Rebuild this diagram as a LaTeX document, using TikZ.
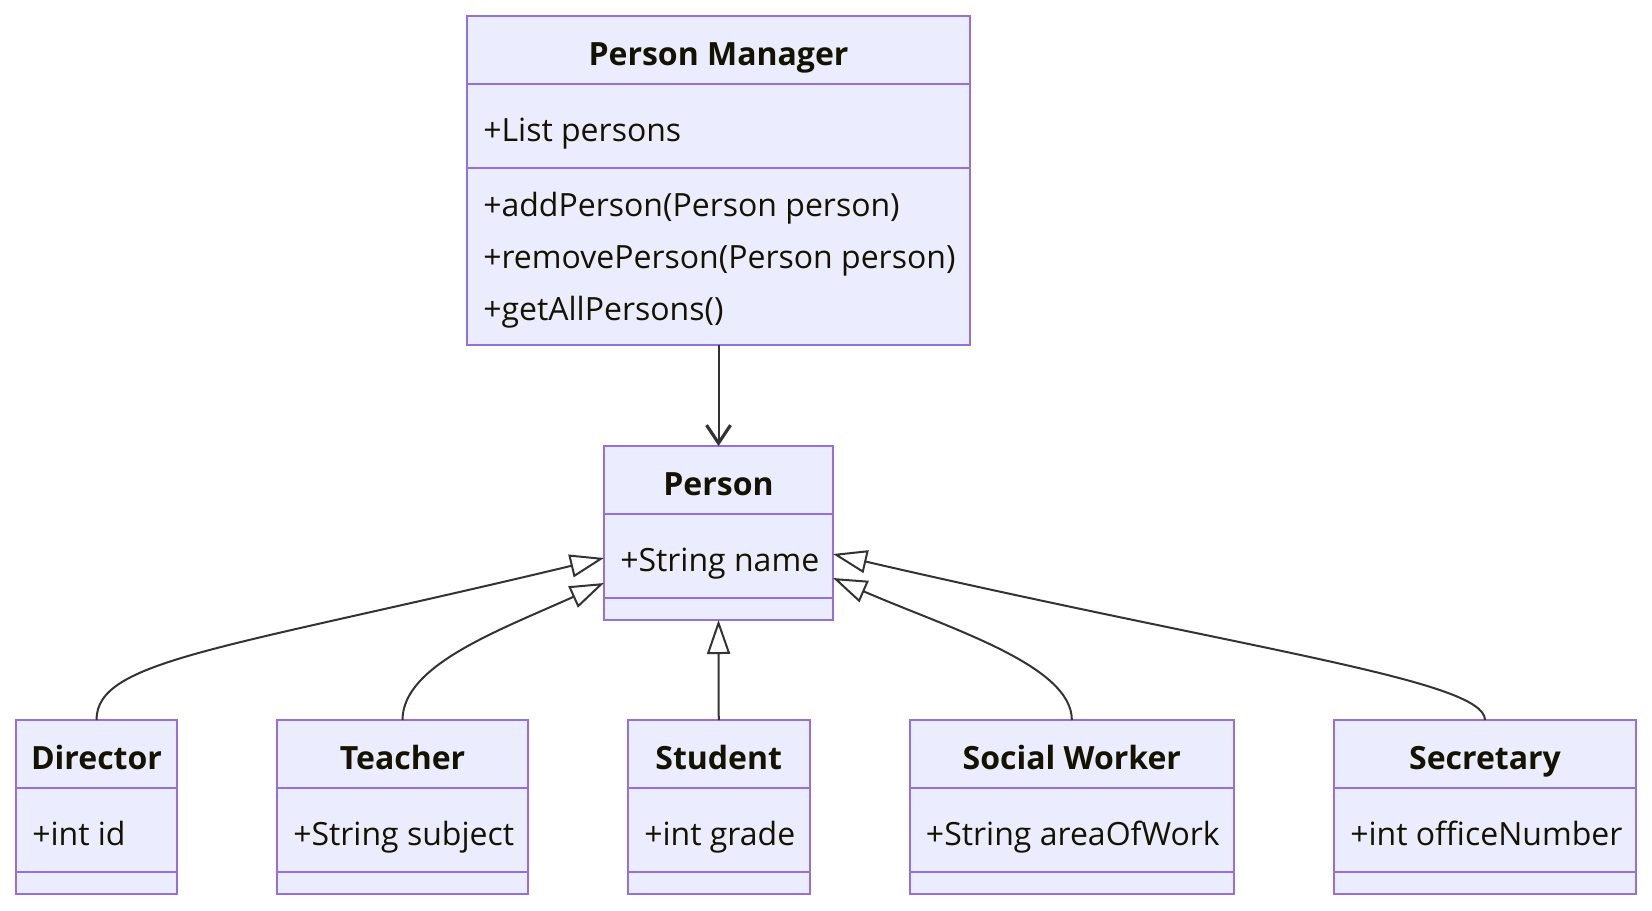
\documentclass[tikz,border=0pt]{standalone}
\usepackage{fontspec}
\setmainfont{Open Sans}
\usetikzlibrary{arrows.meta,calc,fit}

\definecolor{classfill}{HTML}{ECECFF}
\definecolor{classborder}{HTML}{9370DB}
\definecolor{classtext}{HTML}{131300}
\definecolor{edgegray}{HTML}{333333}

\tikzset{
  classbox/.style={draw=classborder, fill=classfill, line width=1.5pt,
    inner sep=0pt, outer sep=0pt},
  classline/.style={draw=classborder, line width=1.5pt},
  classtitle/.style={anchor=base, inner sep=0pt, text=classtext,
    font=\fontsize{24}{29}\selectfont\bfseries},
  classmember/.style={anchor=base west, inner sep=0pt, text=classtext,
    font=\fontsize{24}{29}\selectfont},
  assoc/.style={draw=edgegray, line width=1.5pt,
    -{Straight Barb[length=13.5pt,width=18pt,line width=2.4pt]}},
  inherit/.style={draw=edgegray, line width=1.5pt,
    -{Triangle[length=25.5pt,width=17.3pt,fill=white]}},
}

% class box: name, left, right, top, title, attribute
\newcommand{\umlclass}[6]{%
  \node[classbox, fit={(#2,#4) (#3,#4+174)}] (#1) {};
  \draw[classline] ($(#1.north west)+(0,68)$) -- ($(#1.north east)+(0,68)$);
  \draw[classline] ($(#1.north west)+(0,152)$) -- ($(#1.north east)+(0,152)$);
  \node[classtitle] (#1-title) at ($(#1.north)+(0,49)$) {#5};
  \node[classmember] (#1-attr) at ($(#1.north west)+(16,125)$) {#6};
}

\begin{document}
\begin{tikzpicture}[x=0.75pt,y=-0.75pt]
\useasboundingbox (0,0) rectangle (1652,910);

% manager with its methods
\node[classbox, fit={(467,16) (970,345)}] (manager) {};
\draw[classline] ($(manager.north west)+(0,68)$) -- ($(manager.north east)+(0,68)$);
\draw[classline] ($(manager.north west)+(0,151.5)$) -- ($(manager.north east)+(0,151.5)$);
\node[classtitle] (manager-title) at ($(manager.north)+(0,49)$) {Person Manager};
\node[classmember] (manager-attr) at ($(manager.north west)+(16,125)$) {+List persons};
\node[classmember] (manager-m1) at ($(manager.north west)+(16,200.7)$) {+addPerson(Person person)};
\node[classmember] (manager-m2) at ($(manager.north west)+(16,252.3)$) {+removePerson(Person person)};
\node[classmember] (manager-m3) at ($(manager.north west)+(16,304)$) {+getAllPersons()};

\umlclass{person}{604}{833}{446}{Person}{+String name}

\umlclass{director}{16}{177}{720}{Director}{+int id}
\umlclass{teacher}{277}{528}{720}{Teacher}{+String subject}
\umlclass{student}{628}{809.5}{720}{Student}{+int grade}
\umlclass{worker}{909.7}{1234}{720}{Social Worker}{+String areaOfWork}
\umlclass{secretary}{1334}{1636}{720}{Secretary}{+int officeNumber}

\draw[assoc] (manager.south) -- (person.north);

% inheritance
\draw[inherit] (director.north) .. controls +(0,-60) and +(-384,92) .. ($(person.west)+(0,25)$);
\draw[inherit] (teacher.north) .. controls +(0,-55) and +(-104,47) .. ($(person.west)+(0,50)$);
\draw[inherit] (student.north) -- (person.south);
\draw[inherit] (worker.north) .. controls +(0,-55) and +(115,50) .. ($(person.east)+(0,45)$);
\draw[inherit] (secretary.north) .. controls +(0,-40) and +(415,96) .. ($(person.east)+(0,21)$);
\end{tikzpicture}
\end{document}
